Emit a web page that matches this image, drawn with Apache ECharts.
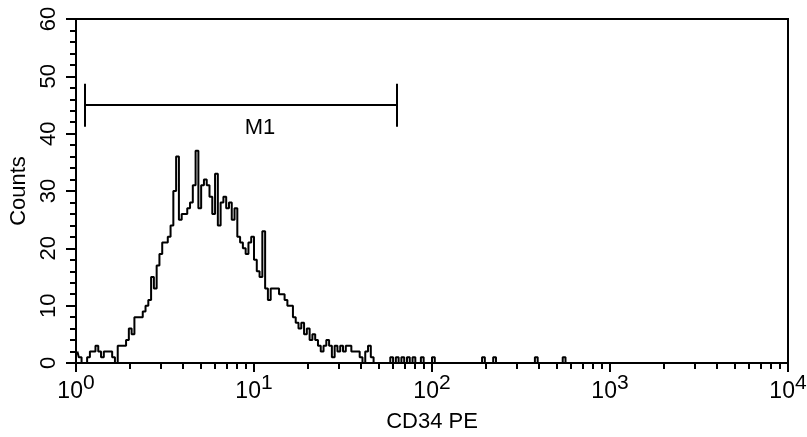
<!DOCTYPE html>
<html>
<head>
<meta charset="utf-8">
<script src="https://cdn.jsdelivr.net/npm/echarts@6/dist/echarts.min.js"></script>
<style>
  html, body { margin: 0; padding: 0; background: #fff; }
  #chart { width: 807px; height: 437px; }
</style>
</head>
<body>
<div id="chart"></div>
<script>
// histogram counts per channel (256 channels over 4 decades)
var counts = [
  2, 1, 0, 0, 1, 2, 2, 3, 2, 1, 2, 2, 2, 1, 0, 3,
  3, 3, 4, 6, 5, 8, 8, 8, 9, 10, 11, 15, 13, 17, 19, 21,
  21, 22, 24, 30, 36, 25, 26, 26, 27, 28, 31, 37, 27, 31, 32, 31,
  29, 26, 33, 24, 28, 29, 27, 28, 25, 27, 22, 21, 20, 19, 21, 22,
  18, 16, 15, 23, 13, 11, 13, 13, 13, 12, 12, 11, 10, 10, 8, 7,
  6, 7, 5, 6, 4, 5, 4, 3, 2, 3, 4, 3, 1, 3, 2, 3,
  2, 3, 3, 2, 2, 2, 1, 0, 2, 3, 1, 0, 0, 0, 0, 0,
  0, 1, 0, 1, 0, 1, 0, 1, 0, 1, 0, 0, 1, 0, 0, 0,
  1, 0, 0, 0, 0, 0, 0, 0, 0, 0, 0, 0, 0, 0, 0, 0,
  0, 0, 1, 0, 0, 0, 1, 0, 0, 0, 0, 0, 0, 0, 0, 0,
  0, 0, 0, 0, 0, 1, 0, 0, 0, 0, 0, 0, 0, 0, 0, 1,
  0, 0, 0, 0, 0, 0, 0, 0, 0, 0, 0, 0, 0, 0, 0, 0,
  0, 0, 0, 0, 0, 0, 0, 0, 0, 0, 0, 0, 0, 0, 0, 0,
  0, 0, 0, 0, 0, 0, 0, 0, 0, 0, 0, 0, 0, 0, 0, 0,
  0, 0, 0, 0, 0, 0, 0, 0, 0, 0, 0, 0, 0, 0, 0, 0,
  0, 0, 0, 0, 0, 0, 0, 0, 0, 0, 0, 0, 0, 0, 0, 0
];
var channels = counts.map(function (c, i) { return i; });

// x axis (log) ticks
var majorTicks = [1, 10, 100, 1000, 10000];
var minorTicks = [
  2, 3, 4, 5, 6, 7, 8, 9,
  20, 30, 40, 50, 60, 70, 80, 90,
  200, 300, 400, 500, 600, 700, 800, 900,
  2000, 3000, 4000, 5000, 6000, 7000, 8000, 9000
];

// M1 marker gate
var markerName = 'M1';
var markerRange = [1.12, 63.6];
var markerLevel = 45;
var markerCap = [41.2, 48.7];
var markerLabelAt = [10.8, 45];

var font = 'Liberation Sans';
var black = '#000';

var chart = echarts.init(document.getElementById('chart'));

var option = {
  backgroundColor: '#fff',
  animation: false,
  grid: {
    left: 76, right: 19, top: 19, bottom: 74,
    show: true, borderColor: black, borderWidth: 2,
    containLabel: false, outerBoundsMode: 'none'
  },
  xAxis: [
    {
      // channel axis the histogram is drawn on
      type: 'category', data: channels, boundaryGap: true, show: false, position: 'bottom'
    },
    {
      type: 'log', logBase: 10, min: 1, max: 10000, position: 'bottom',
      name: 'CD34 PE', nameLocation: 'middle', nameGap: 48,
      nameTextStyle: { fontFamily: font, fontSize: 22, color: black },
      axisLine: { show: true, onZero: false, lineStyle: { color: black, width: 2 } },
      axisTick: { show: true, length: 9, customValues: majorTicks, lineStyle: { color: black, width: 2 } },
      axisLabel: {
        customValues: majorTicks,
        margin: 10,
        formatter: function (v) {
          var e = Math.round(Math.log10(v));
          return '{b|10}{s|' + e + '}';
        },
        rich: {
          b: { fontFamily: font, fontSize: 23, color: black, lineHeight: 30, verticalAlign: 'bottom' },
          s: { fontFamily: font, fontSize: 21, color: black, lineHeight: 30, verticalAlign: 'top' }
        }
      },
      splitLine: { show: false }
    },
    {
      type: 'log', logBase: 10, min: 1, max: 10000, position: 'bottom',
      axisLine: { show: false, onZero: false },
      axisTick: { show: true, length: 6, customValues: minorTicks, lineStyle: { color: black, width: 2 } },
      axisLabel: { show: false },
      splitLine: { show: false }
    }
  ],
  yAxis: {
    type: 'value', min: 0, max: 60, interval: 10,
    name: 'Counts', nameLocation: 'middle', nameGap: 46, nameRotate: 90,
    nameTextStyle: { fontFamily: font, fontSize: 22, color: black },
    axisLine: { show: true, lineStyle: { color: black, width: 2 } },
    axisTick: { show: true, length: 10, lineStyle: { color: black, width: 2 } },
    minorTick: { show: true, splitNumber: 5, length: 6, lineStyle: { color: black, width: 2 } },
    axisLabel: { rotate: 90, margin: 16, fontFamily: font, fontSize: 22, color: black },
    splitLine: { show: false }
  },
  series: [
    {
      type: 'line', xAxisIndex: 0, yAxisIndex: 0,
      data: counts, step: 'middle', symbol: 'none',
      lineStyle: { color: black, width: 2 }
    },
    {
      type: 'lines', coordinateSystem: 'cartesian2d', xAxisIndex: 1, yAxisIndex: 0,
      lineStyle: { color: black, width: 2, opacity: 1 },
      data: [
        { coords: [[markerRange[0], markerCap[0]], [markerRange[0], markerCap[1]]] },
        { coords: [[markerRange[0], markerLevel], [markerRange[1], markerLevel]] },
        { coords: [[markerRange[1], markerCap[0]], [markerRange[1], markerCap[1]]] }
      ]
    },
    {
      type: 'scatter', xAxisIndex: 1, yAxisIndex: 0,
      symbolSize: 0,
      data: [markerLabelAt],
      label: {
        show: true, position: 'bottom', distance: 12,
        formatter: markerName,
        fontFamily: font, fontSize: 22, color: black, opacity: 1
      }
    }
  ]
};

chart.setOption(option);
</script>
</body>
</html>
